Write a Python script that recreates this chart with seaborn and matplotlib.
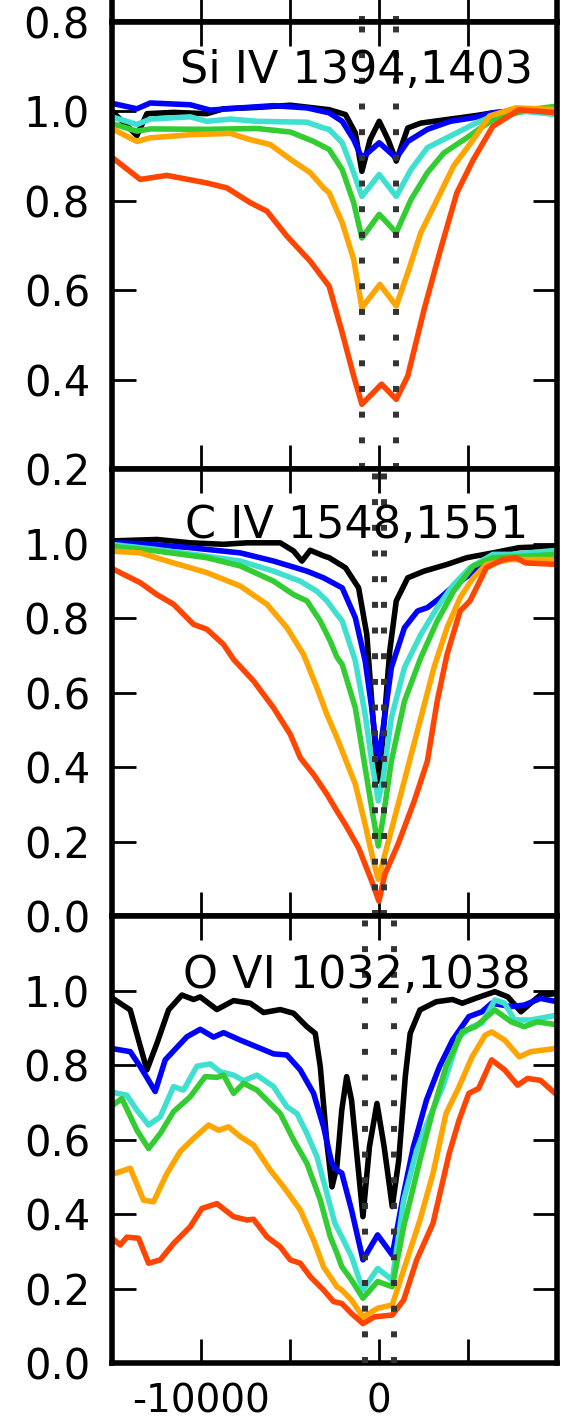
import matplotlib
matplotlib.use("Agg")
import matplotlib.pyplot as plt
import seaborn as sns

# curve colours, from the first (black) to the last (red) spectrum
colors = ["black", "blue", "turquoise", "limegreen", "orange", "orangered"]

# ---------------- Si IV 1394,1403 (velocity km/s, normalised flux)
siiv_black_v = [-15100, -13615, -13053, -11555, -9682, -8745, -6872, -4987, -2815, -1895, -1343, -975, -515, 0, 497, 957, 1601, 2337, 3993, 5465, 6385, 8225, 10000]
siiv_black_f = [1.004, 0.946, 0.995, 0.998, 0.995, 1.006, 1.009, 1.014, 1.004, 0.993, 0.952, 0.866, 0.937, 0.978, 0.937, 0.889, 0.963, 0.974, 0.983, 0.991, 0.997, 1.004, 1.006]
siiv_blue_v = [-15100, -13615, -12866, -10618, -9494, -7809, -5935, -4063, -2815, -2079, -1435, -975, 0, 957, 1601, 2705, 3993, 5281, 6385, 8225, 10000]
siiv_blue_f = [1.019, 1.006, 1.019, 1.015, 1.003, 1.008, 1.013, 1.008, 0.997, 0.978, 0.937, 0.896, 0.930, 0.896, 0.933, 0.96, 0.978, 0.986, 0.997, 1.003, 1.006]
siiv_turq_v = [-15100, -13615, -12866, -10618, -9682, -8370, -6872, -4063, -3126, -2815, -2079, -1435, -975, 0, 957, 1785, 2705, 3993, 5281, 6385, 8225, 10000]
siiv_turq_f = [0.989, 0.971, 0.983, 0.988, 0.978, 0.983, 0.978, 0.976, 0.963, 0.96, 0.93, 0.863, 0.81, 0.859, 0.81, 0.87, 0.919, 0.945, 0.971, 0.99, 1.0, 0.993]
siiv_green_v = [-15100, -13615, -12866, -9682, -6872, -4987, -3688, -2815, -2079, -1435, -975, 0, 957, 1785, 2705, 3625, 4913, 6385, 8225, 10000]
siiv_green_f = [0.974, 0.956, 0.961, 0.96, 0.962, 0.954, 0.933, 0.915, 0.87, 0.796, 0.717, 0.77, 0.729, 0.803, 0.863, 0.907, 0.941, 0.982, 1.003, 1.012]
siiv_orange_v = [-15100, -13615, -12866, -10618, -8370, -7247, -6123, -4987, -3876, -3126, -2815, -2079, -1435, -975, 37, 957, 1601, 2337, 3257, 4177, 5281, 6201, 7673, 10000]
siiv_orange_f = [0.963, 0.933, 0.941, 0.948, 0.951, 0.937, 0.926, 0.893, 0.863, 0.829, 0.818, 0.751, 0.669, 0.561, 0.613, 0.565, 0.639, 0.729, 0.803, 0.878, 0.937, 0.99, 1.008, 1.004]
siiv_red_v = [-15100, -13427, -11929, -9682, -8558, -7247, -6310, -5186, -3876, -2815, -2079, -1435, -975, 129, 957, 1601, 2521, 3441, 4361, 5281, 6385, 7857, 10000]
siiv_red_f = [0.90, 0.848, 0.857, 0.84, 0.829, 0.796, 0.777, 0.721, 0.665, 0.609, 0.505, 0.408, 0.345, 0.39, 0.356, 0.408, 0.557, 0.691, 0.818, 0.892, 0.967, 1.004, 0.997]

# ---------------- C IV 1548,1551
civ_black_v = [-15100, -12491, -10618, -8745, -7434, -5561, -4812, -4343, -3875, -3126, -2815, -1895, -1159, -699, -423, -147, -18, 221, 589, 957, 1601, 2521, 3809, 4913, 6385, 7857, 10000]
civ_black_f = [1.007, 1.011, 1.002, 0.998, 1.002, 1.002, 0.98, 0.953, 0.982, 0.967, 0.962, 0.935, 0.881, 0.756, 0.577, 0.407, 0.362, 0.488, 0.711, 0.846, 0.908, 0.926, 0.944, 0.962, 0.975, 0.989, 0.993]
civ_blue_v = [-15100, -13427, -10618, -7809, -5935, -4063, -3126, -2079, -1343, -791, -423, -147, -18, 221, 681, 1417, 2153, 2705, 3441, 4177, 5097, 6017, 7305, 10000]
civ_blue_f = [1.002, 1.0, 0.989, 0.975, 0.953, 0.926, 0.908, 0.881, 0.801, 0.685, 0.559, 0.443, 0.425, 0.506, 0.667, 0.774, 0.819, 0.828, 0.855, 0.886, 0.917, 0.953, 0.966, 0.98]
civ_turq_v = [-15100, -12491, -9682, -7809, -5935, -4437, -3500, -2939, -2377, -2079, -1343, -791, -423, -55, 221, 681, 1417, 2337, 3257, 4177, 5097, 6385, 7489, 10000]
civ_turq_f = [0.998, 0.984, 0.966, 0.953, 0.926, 0.899, 0.872, 0.846, 0.81, 0.792, 0.685, 0.541, 0.416, 0.309, 0.371, 0.532, 0.667, 0.756, 0.828, 0.89, 0.935, 0.971, 0.971, 0.982]
civ_green_v = [-15100, -12491, -9682, -7809, -5935, -4812, -4063, -3313, -2751, -2377, -2079, -1343, -791, -331, -55, 221, 681, 1417, 2337, 3257, 4177, 5281, 6385, 8225, 10000]
civ_green_f = [0.993, 0.98, 0.962, 0.94, 0.899, 0.863, 0.846, 0.792, 0.738, 0.695, 0.675, 0.559, 0.398, 0.264, 0.188, 0.264, 0.416, 0.577, 0.694, 0.792, 0.872, 0.94, 0.962, 0.966, 0.971]
civ_orange_v = [-15100, -13427, -11555, -9682, -7809, -6310, -5186, -4250, -3500, -2939, -2377, -1343, -791, -331, -55, 221, 865, 1601, 2337, 3073, 3809, 4545, 5281, 6017, 7305, 10000]
civ_orange_f = [0.98, 0.975, 0.948, 0.922, 0.886, 0.837, 0.774, 0.702, 0.613, 0.541, 0.479, 0.354, 0.246, 0.148, 0.099, 0.148, 0.264, 0.398, 0.532, 0.667, 0.774, 0.855, 0.908, 0.944, 0.957, 0.957]
civ_red_v = [-15100, -13427, -12491, -11555, -10431, -9682, -8745, -8183, -7059, -5935, -4999, -4437, -3688, -2939, -2377, -1895, -1159, -423, -18, 313, 1049, 1969, 2705, 3257, 3809, 4545, 5097, 6017, 6937, 7673, 8225, 10000]
civ_red_f = [0.935, 0.895, 0.863, 0.837, 0.783, 0.77, 0.729, 0.689, 0.631, 0.559, 0.488, 0.425, 0.38, 0.327, 0.282, 0.245, 0.183, 0.094, 0.04, 0.112, 0.192, 0.309, 0.416, 0.577, 0.702, 0.819, 0.846, 0.935, 0.957, 0.962, 0.948, 0.944]

# ---------------- O VI 1032,1038
ovi_black_v = [-15100, -13989, -13521, -13053, -12491, -11835, -11086, -10431, -10056, -9120, -8183, -7247, -6498, -5561, -4812, -4063, -3594, -3313, -2939, -2654, -2379, -2105, -1830, -1556, -1190, -915, -549, -128, 275, 732, 1098, 1464, 1739, 2288, 3203, 4118, 4667, 5399, 6497, 7229, 7961, 8510, 9059, 10000]
ovi_black_f = [0.983, 0.948, 0.867, 0.787, 0.858, 0.948, 0.988, 0.976, 0.983, 0.949, 0.973, 0.966, 0.941, 0.949, 0.939, 0.903, 0.885, 0.796, 0.59, 0.473, 0.527, 0.679, 0.769, 0.706, 0.527, 0.393, 0.581, 0.697, 0.581, 0.42, 0.545, 0.769, 0.885, 0.948, 0.97, 0.976, 0.966, 0.979, 0.997, 0.983, 0.943, 0.966, 0.988, 0.992]
ovi_blue_v = [-15100, -13989, -13427, -12585, -12023, -10805, -10056, -9307, -8745, -7809, -6685, -5935, -5186, -4437, -3688, -3126, -2837, -2658, -2377, -2105, -1556, -915, -92, 732, 1373, 1922, 2654, 3386, 4118, 5033, 5765, 6314, 7412, 8144, 9059, 10000]
ovi_blue_f = [0.845, 0.836, 0.796, 0.729, 0.814, 0.876, 0.896, 0.875, 0.887, 0.867, 0.845, 0.83, 0.827, 0.787, 0.724, 0.634, 0.572, 0.536, 0.518, 0.51, 0.411, 0.277, 0.344, 0.29, 0.455, 0.581, 0.706, 0.796, 0.867, 0.93, 0.943, 0.966, 0.957, 0.961, 0.979, 0.97]
ovi_turq_v = [-15100, -14177, -13615, -12959, -12304, -11555, -10993, -10243, -9494, -8932, -8183, -7621, -6872, -5935, -5186, -4624, -4063, -3500, -2939, -2490, -2105, -1556, -915, -92, 732, 1373, 2105, 2837, 3569, 4484, 5216, 5765, 6497, 7046, 7595, 8510, 10000]
ovi_turq_f = [0.728, 0.719, 0.679, 0.639, 0.661, 0.742, 0.733, 0.797, 0.803, 0.782, 0.773, 0.758, 0.773, 0.742, 0.688, 0.67, 0.616, 0.554, 0.455, 0.375, 0.339, 0.286, 0.196, 0.254, 0.223, 0.437, 0.572, 0.661, 0.742, 0.876, 0.903, 0.912, 0.975, 0.966, 0.921, 0.921, 0.934]
ovi_green_v = [-15100, -14458, -13615, -12959, -12304, -11555, -10618, -9775, -9120, -8745, -8183, -7621, -6872, -6310, -5561, -4812, -4063, -3313, -2751, -2377, -2105, -1556, -915, -92, 732, 1373, 2288, 3020, 3752, 4667, 5399, 6497, 7412, 8144, 8876, 10000]
ovi_green_f = [0.688, 0.71, 0.625, 0.576, 0.616, 0.675, 0.715, 0.769, 0.767, 0.773, 0.724, 0.751, 0.733, 0.706, 0.67, 0.599, 0.536, 0.438, 0.339, 0.295, 0.259, 0.223, 0.174, 0.219, 0.205, 0.366, 0.545, 0.679, 0.796, 0.89, 0.903, 0.948, 0.916, 0.903, 0.916, 0.908]
ovi_orange_v = [-15100, -13989, -13240, -12678, -11929, -11180, -10431, -9588, -9026, -8464, -7809, -7059, -6123, -5374, -4437, -3688, -3126, -2377, -2105, -1556, -915, -92, 732, 1373, 2288, 3020, 3752, 4484, 5216, 5948, 6314, 7046, 7869, 8510, 10000]
ovi_orange_f = [0.505, 0.523, 0.437, 0.433, 0.509, 0.568, 0.603, 0.639, 0.625, 0.634, 0.608, 0.585, 0.518, 0.473, 0.411, 0.33, 0.258, 0.205, 0.196, 0.169, 0.124, 0.147, 0.156, 0.25, 0.384, 0.509, 0.67, 0.742, 0.822, 0.88, 0.889, 0.867, 0.822, 0.836, 0.845]
ovi_red_v = [-15100, -14551, -14177, -13521, -12959, -12304, -11555, -10618, -9963, -9120, -8183, -7434, -7059, -6310, -5561, -4999, -4437, -3875, -3126, -2564, -2105, -1556, -915, -275, 732, 1373, 2105, 3020, 3935, 4484, 5033, 5582, 6314, 7046, 7778, 8327, 9059, 10000]
ovi_red_f = [0.339, 0.317, 0.338, 0.335, 0.268, 0.277, 0.321, 0.366, 0.415, 0.428, 0.393, 0.384, 0.386, 0.339, 0.312, 0.277, 0.268, 0.232, 0.196, 0.165, 0.16, 0.133, 0.106, 0.124, 0.129, 0.169, 0.277, 0.375, 0.563, 0.652, 0.724, 0.737, 0.814, 0.787, 0.746, 0.764, 0.759, 0.719]

# half-separation of each doublet in km/s (dotted lines)
siiv_doublet = [-965, 965]
civ_doublet = [-249, 249]
ovi_doublet = [-825, 825]

xticks = [-10000, -5000, 0, 5000]
xticklabels = ["-10000", "", "0", ""]

panels = [
    ("Si IV 1394,1403", 0.864, (0.2, 1.2), [0.2, 0.4, 0.6, 0.8, 1.0], siiv_doublet,
     [(siiv_black_v, siiv_black_f), (siiv_blue_v, siiv_blue_f), (siiv_turq_v, siiv_turq_f),
      (siiv_green_v, siiv_green_f), (siiv_orange_v, siiv_orange_f), (siiv_red_v, siiv_red_f)]),
    ("C IV 1548,1551", 0.845, (0.0, 1.2), [0.0, 0.2, 0.4, 0.6, 0.8, 1.0], civ_doublet,
     [(civ_black_v, civ_black_f), (civ_blue_v, civ_blue_f), (civ_turq_v, civ_turq_f),
      (civ_green_v, civ_green_f), (civ_orange_v, civ_orange_f), (civ_red_v, civ_red_f)]),
    ("O VI 1032,1038", 0.839, (0.0, 1.2), [0.0, 0.2, 0.4, 0.6, 0.8, 1.0], ovi_doublet,
     [(ovi_black_v, ovi_black_f), (ovi_blue_v, ovi_blue_f), (ovi_turq_v, ovi_turq_f),
      (ovi_green_v, ovi_green_f), (ovi_orange_v, ovi_orange_f), (ovi_red_v, ovi_red_f)]),
]

sns.set_style("ticks")
plt.rcParams.update({
    "font.family": ["DejaVu Sans"],
    "font.size": 32,
    "text.color": "black",
    "axes.edgecolor": "black",
    "axes.linewidth": 4,
    "axes.unicode_minus": False,
    "xtick.color": "black",
    "ytick.color": "black",
    "xtick.direction": "in",
    "ytick.direction": "in",
    "xtick.top": True,
    "ytick.right": True,
    "xtick.major.size": 17,
    "ytick.major.size": 17,
    "xtick.major.width": 2,
    "ytick.major.width": 2,
    "xtick.major.pad": 14,
    "ytick.major.pad": 16,
    "xtick.labelsize": 28,
    "ytick.labelsize": 30,
})

fig = plt.figure(figsize=(5.64, 14.24), dpi=100)
left, width, height = 0.199, 0.789, 0.3139
bottoms = [0.6706, 0.3567, 0.0428]


def style_axis(ax, ylim, yticks, show_x):
    ax.set_xlim(-15000, 10000)
    ax.set_ylim(*ylim)
    ax.set_xticks(xticks)
    ax.set_yticks(yticks)
    ax.set_yticklabels(["%.1f" % t for t in yticks])
    if show_x:
        ax.set_xticklabels(xticklabels)
    else:
        ax.set_xticklabels([])
    ax.set_xlabel("")
    ax.set_ylabel("")


# panel cut off above the top of the picture: only its lowest tick label shows
ax0 = fig.add_axes([left, 0.9845, width, height])
style_axis(ax0, (0.8, 1.2), [0.8], False)
for d in siiv_doublet:
    ax0.axvline(d, color="0.2", lw=4.3, ls=(0, (1, 3.3)), zorder=3)

for (label, ty, ylim, yticks, doublet, curves), b in zip(panels, bottoms):
    ax = fig.add_axes([left, b, width, height])
    for (v, f), c in zip(curves, colors):
        line = sns.lineplot(x=v, y=f, color=c, ax=ax, estimator=None, sort=False)
    for ln in ax.get_lines():
        ln.set_linewidth(4)
        ln.set_solid_joinstyle("round")
    for d in doublet:
        ax.axvline(d, color="0.2", lw=4.3, ls=(0, (1, 3.3)), zorder=3)
    ax.text(0.55, ty, label, transform=ax.transAxes, ha="center", va="baseline", fontsize=32)
    style_axis(ax, ylim, yticks, b == bottoms[-1])

fig.savefig("out.png", dpi=100)
